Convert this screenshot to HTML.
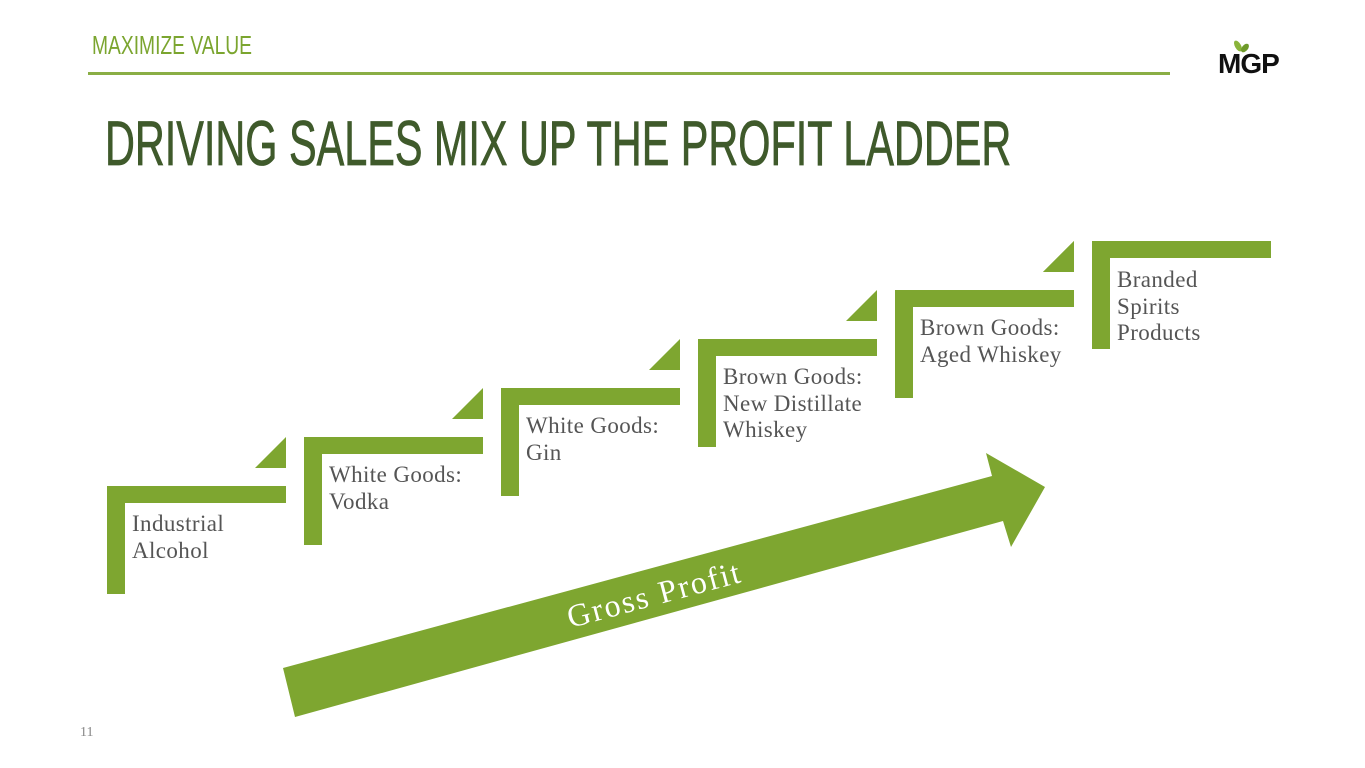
<!DOCTYPE html>
<html><head><meta charset="utf-8"><style>
body{margin:0;width:1365px;height:768px;background:#fff;position:relative;overflow:hidden;font-family:"Liberation Serif",serif}
.h{position:absolute;left:92px;top:30px;font-family:"Liberation Sans Narrow","Liberation Sans",sans-serif;font-size:26px;color:#7ba52f;transform:scaleX(0.74);transform-origin:left;white-space:nowrap}
.t{position:absolute;left:105px;top:108px;font-family:"Liberation Sans Narrow","Liberation Sans",sans-serif;font-size:63px;color:#3f5a2b;white-space:nowrap;transform:scaleX(0.657);transform-origin:left;-webkit-text-stroke:0.8px #3f5a2b}
.lab{position:absolute;font-size:23px;line-height:26.5px;color:#555;letter-spacing:0.4px;font-family:"Liberation Serif","DejaVu Serif",serif}
.n{position:absolute;left:80px;top:725px;font-size:14px;color:#888}
</style></head><body>
<div class="h">MAXIMIZE VALUE</div>
<div style="position:absolute;left:88px;top:72px;width:1082px;height:3px;background:#8aae45"></div>
<div class="t">DRIVING SALES MIX UP THE PROFIT LADDER</div>
<div style="position:absolute;left:1218px;top:48px;font-family:'Liberation Sans',sans-serif;font-weight:bold;font-size:28px;color:#111;letter-spacing:-1px">MGP</div>
<svg style="position:absolute;left:1232px;top:38px" width="20" height="16"><ellipse cx="6" cy="8" rx="3" ry="6" fill="#8ab43a" transform="rotate(-30 6 8)"/><ellipse cx="13" cy="10" rx="3" ry="5" fill="#6e9a2a" transform="rotate(40 13 10)"/></svg>
<svg width="1365" height="768" style="position:absolute;left:0;top:0">
<g fill="#7ea630">
<g id="s"><rect x="107" y="486" width="18" height="108"/><rect x="107" y="486" width="179" height="17"/><polygon points="255,468 286,437 286,468"/></g>
<use href="#s" transform="translate(197,-49)"/>
<use href="#s" transform="translate(394,-98)"/>
<use href="#s" transform="translate(591,-147)"/>
<use href="#s" transform="translate(788,-196)"/>
<g transform="translate(985,-245)"><rect x="107" y="486" width="18" height="108"/><rect x="107" y="486" width="179" height="17"/></g>
<polygon points="1043,272 1074,241 1074,272"/>
<polygon points="283,668 992,476 986,453 1045,487 1011,547 1003,521 295,717"/>
</g>
<text x="655" y="605" transform="rotate(-15 655 597)" text-anchor="middle" fill="#fff" font-family="Liberation Serif,serif" font-size="32" letter-spacing="2">Gross Profit</text>
</svg>
<div class="lab" style="left:132px;top:511px">Industrial<br>Alcohol</div>
<div class="lab" style="left:329px;top:462px">White Goods:<br>Vodka</div>
<div class="lab" style="left:526px;top:413px">White Goods:<br>Gin</div>
<div class="lab" style="left:723px;top:364px">Brown Goods:<br>New Distillate<br>Whiskey</div>
<div class="lab" style="left:920px;top:315px">Brown Goods:<br>Aged Whiskey</div>
<div class="lab" style="left:1117px;top:267px">Branded<br>Spirits<br>Products</div>
<div class="n">11</div>
</body></html>
